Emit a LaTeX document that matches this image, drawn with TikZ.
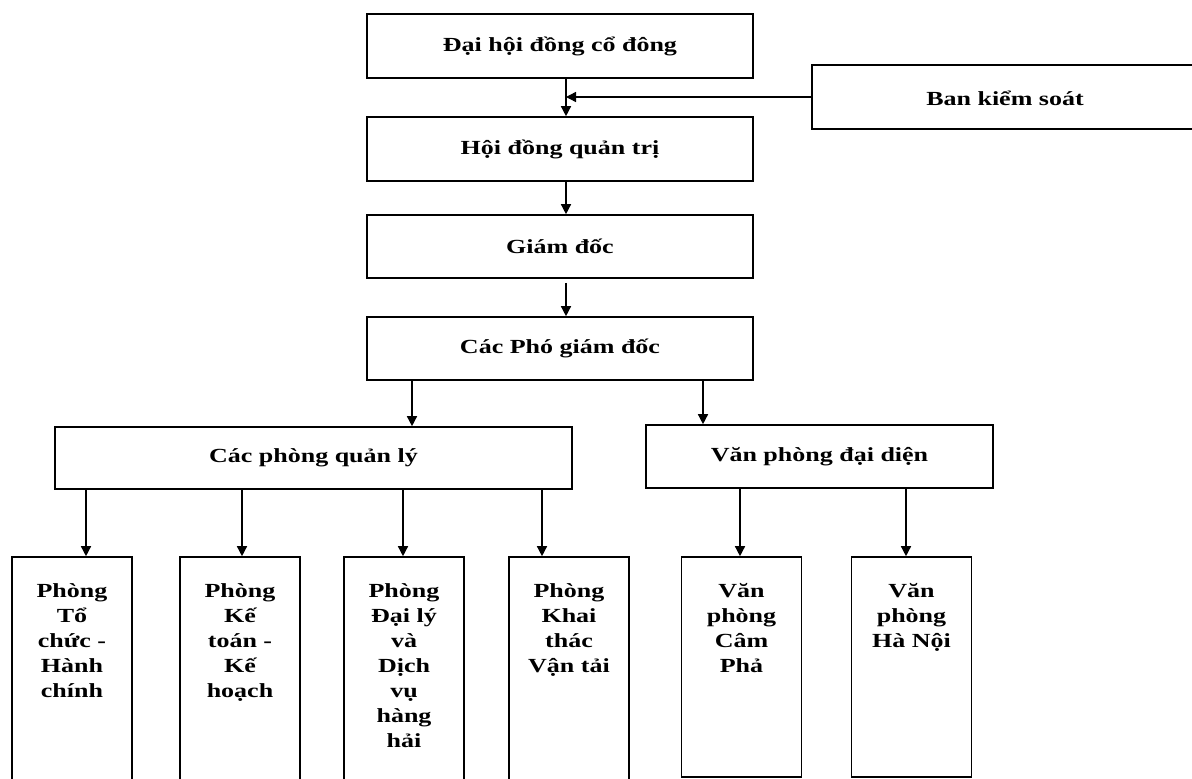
\documentclass[tikz,border=0pt]{standalone}
\usepackage{fontspec}
\setmainfont{Liberation Serif}[FakeStretch=1.3]
\usetikzlibrary{arrows.meta}
\begin{document}
\begin{tikzpicture}[x=1pt,y=-1pt,
  box/.style={draw=black,line width=1.6pt,rectangle,inner sep=0pt,fill=white,
    font=\bfseries\fontsize{20}{25}\selectfont},
  tallbox/.style={draw=black,line width=1.6pt,rectangle,inner sep=0pt,
    minimum width=120pt,minimum height=220pt},
  talltext/.style={anchor=north,inner sep=0pt,align=center,
    font=\bfseries\fontsize{20}{25}\selectfont},
  arr/.style={draw=black,line width=1.4pt,-{Triangle[length=10pt,width=10pt]}}]
\clip (0,0) rectangle (1192,779);
\fill[white] (0,0) rectangle (1192,779);

% upper chain
\node[box,minimum width=386pt,minimum height=64pt] (dh) at (560,46) {Đại hội đồng cổ đông};
\node[box,minimum width=386pt,minimum height=64pt] (hd) at (560,149) {Hội đồng quản trị};
\node[box,minimum width=386pt,minimum height=63pt] (gd) at (560,246.5) {Giám đốc};
\node[box,minimum width=386pt,minimum height=63pt] (pgd) at (560,348.5) {Các Phó giám đốc};
\node[box,minimum width=390pt,minimum height=64pt] (bks) at (1007,97) {};
\node[font=\bfseries\fontsize{20}{25}\selectfont,inner sep=0pt] (bkst) at (1005,98) {Ban kiểm soát};

% second level
\node[box,minimum width=517pt,minimum height=62pt] (qly) at (313.5,458) {Các phòng quản lý};
\node[box,minimum width=347pt,minimum height=63pt] (vpdd) at (819.5,456.5) {Văn phòng đại diện};

% bottom boxes
\node[tallbox,minimum height=228pt] (b1) at (72,671) {};
\node[tallbox,minimum height=228pt] (b2) at (240,671) {};
\node[tallbox,minimum height=228pt] (b3) at (404,671) {};
\node[tallbox,minimum height=228pt] (b4) at (569,671) {};
\node[tallbox] (b5) at (741.5,667) {};
\node[tallbox] (b6) at (911.5,667) {};

\node[talltext] (t1) at ([yshift=-27pt]b1.north) {Phòng\\Tổ\\chức -\\Hành\\chính};
\node[talltext] (t2) at ([yshift=-27pt]b2.north) {Phòng\\Kế\\toán -\\Kế\\hoạch};
\node[talltext] (t3) at ([yshift=-27pt]b3.north) {Phòng\\Đại lý\\và\\Dịch\\vụ\\hàng\\hải};
\node[talltext] (t4) at ([yshift=-27pt]b4.north) {Phòng\\Khai\\thác\\Vận tải};
\node[talltext] (t5) at ([yshift=-27pt]b5.north) {Văn\\phòng\\Câm\\Phả};
\node[talltext] (t6) at ([yshift=-27pt]b6.north) {Văn\\phòng\\Hà Nội};

% arrow x positions
\coordinate (xm) at (566,0);
\coordinate (xa) at (412,0);
\coordinate (xb) at (703,0);
\coordinate (x1) at (86,0);
\coordinate (x2) at (242,0);
\coordinate (x3) at (403,0);
\coordinate (x4) at (542,0);
\coordinate (x5) at (740,0);
\coordinate (x6) at (906,0);

% connectors
\draw[arr] (dh.south -| xm) -- (hd.north -| xm);
\draw[arr] (bks.west) -- (bks.west -| xm);
\draw[arr] (hd.south -| xm) -- (gd.north -| xm);
\draw[arr] ([yshift=-4pt]gd.south -| xm) -- (pgd.north -| xm);
\draw[arr] (pgd.south -| xa) -- (qly.north -| xa);
\draw[arr] (pgd.south -| xb) -- (vpdd.north -| xb);
\draw[arr] (qly.south -| x1) -- (b1.north -| x1);
\draw[arr] (qly.south -| x2) -- (b2.north -| x2);
\draw[arr] (qly.south -| x3) -- (b3.north -| x3);
\draw[arr] (qly.south -| x4) -- (b4.north -| x4);
\draw[arr] (vpdd.south -| x5) -- (b5.north -| x5);
\draw[arr] (vpdd.south -| x6) -- (b6.north -| x6);
\end{tikzpicture}
\end{document}
